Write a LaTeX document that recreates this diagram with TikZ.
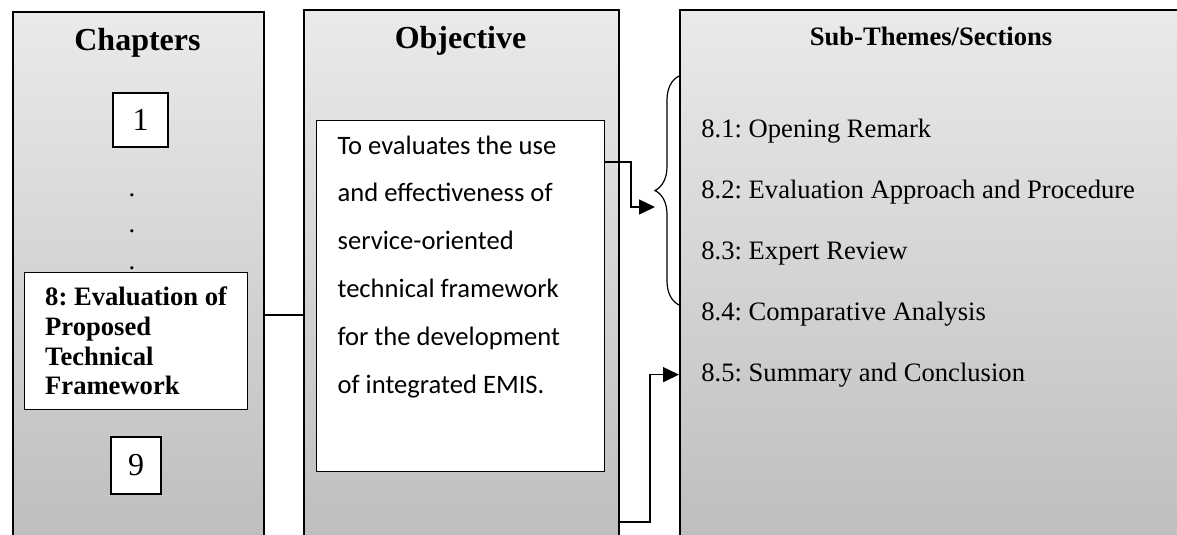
\documentclass[tikz,border=0pt]{standalone}
\usepackage{fontspec}
\setmainfont{Liberation Serif}
\newfontfamily\objfont{Carlito}
\frenchspacing
\usetikzlibrary{arrows.meta, positioning, calc, decorations.pathreplacing}
\definecolor{Ink}{HTML}{000000}
\definecolor{PanelTop}{HTML}{EAEAEA}
\definecolor{PanelBottom}{HTML}{BCBCBC}

\begin{document}
\begin{tikzpicture}[
  x=0.5pt, y=-0.5pt,
  panel/.style={draw=Ink, line width=0.9pt, top color=PanelTop, bottom color=PanelBottom, anchor=north west, inner sep=0pt},
  whitebox/.style={draw=Ink, line width=0.6pt, fill=white},
  numbox/.style={whitebox, font=\fontsize{16}{19}\selectfont, inner sep=0pt},
  heading/.style={font=\bfseries\fontsize{16}{19}\selectfont, anchor=base},
  item/.style={font=\fontsize{13.3}{16}\selectfont, anchor=base west, inner sep=0pt},
  dotmark/.style={font=\fontsize{13.3}{16}\selectfont, anchor=base, inner sep=0pt},
  line/.style={draw=Ink, line width=0.75pt},
  arrow/.style={line, -{Triangle[length=8pt, width=7.5pt]}}
]
\useasboundingbox (0,0) rectangle (1177,535);
\clip (0,0) rectangle (1177,535);

% shaded columns
\node[panel, minimum width=125.5pt, minimum height=274.5pt] (chap) at (12,11) {};
\node[panel, minimum width=157.5pt, minimum height=275.5pt] (obj) at (303,9) {};
\node[panel, minimum width=255.5pt, minimum height=275.5pt] (subs) at (679,9) {};

% column titles
\node[heading] (chaptitle) at (137.5,51) {Chapters};
\node[heading] (objtitle) at (460.5,49) {Objective};
\node[heading, font=\bfseries\fontsize{13.3}{16}\selectfont] (substitle) at (931,46) {Sub-Themes/Sections};

% chapters
\node[numbox, minimum width=27.5pt, minimum height=27pt] (chone) at (140.5,120) {1};
\foreach \y [count=\i] in {196,232,269}
  \node[dotmark] (dot\i) at (132,\y) {.};
\node[whitebox, anchor=north west, minimum width=111.5pt, minimum height=68.5pt, align=left,
  font=\bfseries\fontsize{13.3}{14.8}\selectfont] (cheight) at (24,272)
  {8: Evaluation of\\Proposed\\Technical\\Framework};
\node[numbox, minimum width=25pt, minimum height=28.5pt] (chnine) at (136,465.5) {9};

% objective
\node[whitebox, anchor=north west, inner xsep=10.5pt, inner ysep=7.5pt,
  font=\objfont\fontsize{13.3}{23.9}\selectfont] (objtext) at (316,120)
  {\parbox[c][160.5pt][t]{123pt}{To evaluates the use\\and effectiveness of\\service-oriented\\technical framework\\for the development\\of integrated EMIS.}};

% sections
\foreach \t/\y [count=\i] in {8.1: Opening Remark/137, 8.2: Evaluation Approach and Procedure/198,
  8.3: Expert Review/259, 8.4: Comparative Analysis/320, 8.5: Summary and Conclusion/381}
  \node[item] (s\i) at (701,\y) {\t};

% brace over 8.1--8.4
\draw[line, line width=0.6pt, decorate, decoration={brace, amplitude=12pt}] (679,305) -- (679,76);
\coordinate (bracein) at (655,207);

% connectors
\coordinate (link) at (0,315);
\draw[line] (chap.east |- link) -- (obj.west |- link);
\coordinate (objout) at (0,162);
\draw[arrow] (objtext.east |- objout) -- ++(26,0) |- (bracein);
\coordinate (panelout) at (0,522);
\draw[arrow] (obj.east |- panelout) -- ++(30,0) |- (subs.west |- s5.west);
\end{tikzpicture}
\end{document}
